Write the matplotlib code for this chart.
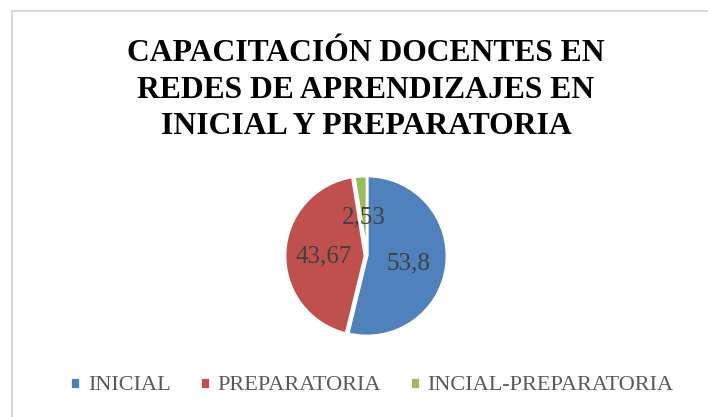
import matplotlib.pyplot as plt
from matplotlib.patches import Rectangle

title = "CAPACITACIÓN DOCENTES EN\nREDES DE APRENDIZAJES EN\nINICIAL Y PREPARATORIA"
categories = ["INICIAL", "PREPARATORIA", "INCIAL-PREPARATORIA"]
values = [53.8, 43.67, 2.53]
value_labels = ["53,8", "43,67", "2,53"]
colors = ["#4F81BD", "#C0504D", "#9BBB59"]

W, H = 708, 417
fig = plt.figure(figsize=(W / 100, H / 100), dpi=100)
plt.rcParams['font.family'] = ['Liberation Serif', 'DejaVu Serif']

# chart border (only top and left visible in the crop)
fig.patches.append(Rectangle((12 / W, -0.5), 1.5, 1.5 - 11 / H,
                             transform=fig.transFigure, fill=False,
                             edgecolor="#d9d9d9", linewidth=1.5))

fig.text(366 / W, 1 - 90 / H, title, ha="center", va="center",
         fontsize=22.8, fontweight="bold", linespacing=1.36, color="black")

# pie axes: centre (367,256), radius 80 px
r = 80
pad = 1.15
ax = fig.add_axes([(367 - r * pad) / W, (H - 256 - r * pad) / H,
                   2 * r * pad / W, 2 * r * pad / H])
lab_iter = iter(value_labels)
wedges, texts, autotexts = ax.pie(
    values, colors=colors, startangle=90, counterclock=False,
    explode=[0, 0.025, 0], autopct=lambda p: next(lab_iter), pctdistance=0.52,
    wedgeprops=dict(edgecolor="white", linewidth=2),
    textprops=dict(fontsize=18, color="#404040"))
for t in autotexts:
    t.set_va("center_baseline")
ax.set_xlim(-pad, pad)
ax.set_ylim(-pad, pad)
ax.set_aspect("equal")
ax.axis("off")

fig.legend(wedges, categories, loc="center", bbox_to_anchor=(372 / W, 1 - 386 / H),
           ncol=3, frameon=False, fontsize=16, labelcolor="#595959",
           handlelength=0.45, handleheight=0.45, handletextpad=0.35,
           columnspacing=1.3)

fig.savefig("out.png", dpi=100, facecolor="white")
